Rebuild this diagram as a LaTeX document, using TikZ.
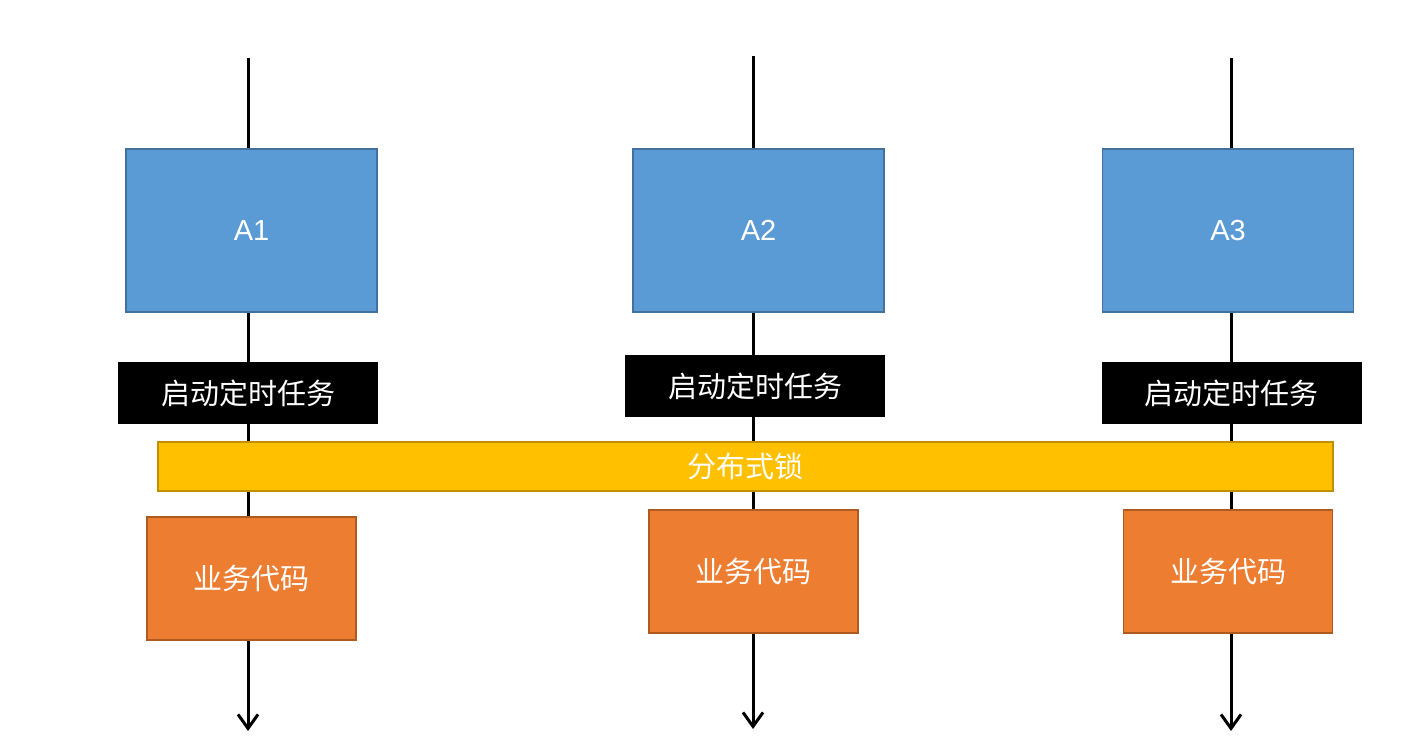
\documentclass[tikz,border=0pt]{standalone}
\usepackage{fontspec}
\setmainfont{Noto Sans CJK SC}
\newfontfamily\latinfont{Liberation Sans}
\usepackage{tikz}
\usetikzlibrary{arrows.meta}
\definecolor{serverblue}{RGB}{91,155,213}
\definecolor{serveredge}{RGB}{65,113,156}
\definecolor{lockyellow}{RGB}{255,192,0}
\definecolor{lockedge}{RGB}{191,144,0}
\definecolor{bizorange}{RGB}{237,125,49}
\definecolor{bizedge}{RGB}{174,90,33}
\tikzstyle{server} = [rectangle, draw=serveredge, line width=0.9pt, fill=serverblue, inner sep=0pt, minimum width=125.5pt, minimum height=81.5pt, text=white, font=\latinfont\fontsize{14.5}{17}\selectfont]
\tikzstyle{task} = [rectangle, fill=black, inner sep=0pt, minimum width=130pt, minimum height=31pt, text=white, font=\fontsize{14.5}{17}\selectfont]
\tikzstyle{lockbar} = [rectangle, draw=lockedge, line width=0.9pt, fill=lockyellow, inner sep=0pt, minimum width=587.5pt, minimum height=24.5pt, text=white, font=\fontsize{14.5}{17}\selectfont]
\tikzstyle{biz} = [rectangle, draw=bizedge, line width=0.9pt, fill=bizorange, inner sep=0pt, minimum width=104.5pt, minimum height=61.5pt, text=white, font=\fontsize{14.5}{17}\selectfont]
\tikzstyle{timeline} = [-{Straight Barb[length=7pt,width=10pt,line width=1.5pt]}, line width=1.5pt]

\begin{document}
\begin{tikzpicture}[x=0.5pt, y=-0.5pt]
  \useasboundingbox (0,0) rectangle (1425,748);

  % timelines, drawn first so the boxes sit on top
  \coordinate (top1) at (248,58);   \coordinate (end1) at (248,731);
  \coordinate (top2) at (753,56);   \coordinate (end2) at (753,729);
  \coordinate (top3) at (1231,58);  \coordinate (end3) at (1231,731);
  \draw[timeline] (top1) -- (end1);
  \draw[timeline] (top2) -- (end2);
  \draw[timeline] (top3) -- (end3);

  % servers
  \node[server] (a1) at (251.5,230.5) {A1};
  \node[server] (a2) at (758.5,230.5) {A2};
  \node[server] (a3) at (1228,230.5) {A3};

  % scheduled tasks
  \node[task] (task1) at (248,393) {启动定时任务};
  \node[task] (task2) at (755,386) {启动定时任务};
  \node[task] (task3) at (1231.5,393) {启动定时任务};

  % shared lock
  \node[lockbar] (lock) at (745.5,466.5) {分布式锁};

  % business code
  \node[biz] (biz1) at (251.5,578.5) {业务代码};
  \node[biz] (biz2) at (753.5,571.5) {业务代码};
  \node[biz] (biz3) at (1228,571.5) {业务代码};
\end{tikzpicture}
\end{document}
